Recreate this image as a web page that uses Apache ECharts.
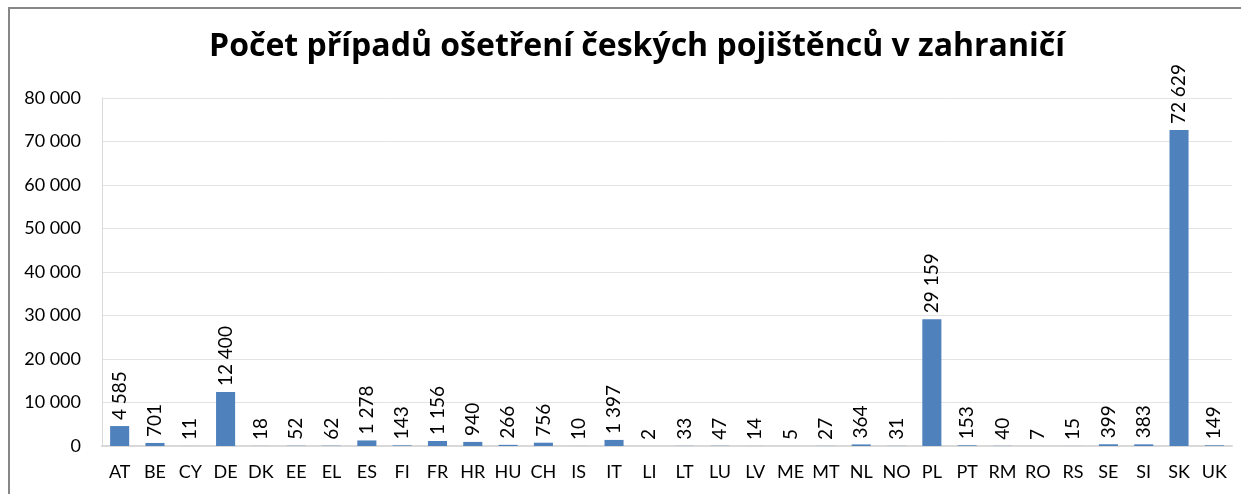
<!DOCTYPE html>
<html>
<head>
<meta charset="utf-8">
<script src="https://cdn.jsdelivr.net/npm/echarts@6/dist/echarts.min.js"></script>
<style>
  html, body { margin: 0; padding: 0; background: #fff; }
  #chart { width: 1241px; height: 494px; }
</style>
</head>
<body>
<div id="chart"></div>
<script>
  // zeme (kody) a pocty pripadu
  var countries = ['AT', 'BE', 'CY', 'DE', 'DK', 'EE', 'EL', 'ES', 'FI', 'FR', 'HR', 'HU', 'CH', 'IS', 'IT', 'LI',
    'LT', 'LU', 'LV', 'ME', 'MT', 'NL', 'NO', 'PL', 'PT', 'RM', 'RO', 'RS', 'SE', 'SI', 'SK', 'UK'];
  var cases = [4585, 701, 11, 12400, 18, 52, 62, 1278, 143, 1156, 940, 266, 756, 10, 1397, 2,
    33, 47, 14, 5, 27, 364, 31, 29159, 153, 40, 7, 15, 399, 383, 72629, 149];
  var yTicks = [0, 10000, 20000, 30000, 40000, 50000, 60000, 70000, 80000];

  var fontName = 'Lato, "Open Sans", sans-serif';

  // cislo s mezerou mezi tisici
  function fmt(v) {
    return String(v).replace(/\B(?=(\d{3})+(?!\d))/g, ' ');
  }

  var myChart = echarts.init(document.getElementById('chart'));
  var option = {
    animation: false,
    backgroundColor: '#fff',
    textStyle: { fontFamily: fontName },
    title: {
      text: 'Počet případů ošetření českých pojištěnců v zahraničí',
      left: 632,
      textAlign: 'center',
      top: 26,
      textStyle: { fontSize: 32, fontWeight: 'bold', color: '#000', fontFamily: '"Open Sans", sans-serif' }
    },
    graphic: [{
      type: 'rect',
      shape: { x: 9, y: 8, width: 1260, height: 520 },
      style: { fill: null, stroke: '#878787', lineWidth: 2 },
      silent: true
    }],
    grid: { left: 102, right: 9, top: 98, bottom: 48, containLabel: false },
    xAxis: {
      type: 'category',
      data: countries,
      axisLine: { lineStyle: { color: '#d9d9d9', width: 2 } },
      axisTick: { show: false },
      axisLabel: { color: '#000', fontSize: 18, margin: 17, interval: 0 }
    },
    yAxis: {
      type: 'value',
      min: yTicks[0],
      max: yTicks[yTicks.length - 1],
      interval: yTicks[1] - yTicks[0],
      axisLine: { show: true, lineStyle: { color: '#d9d9d9', width: 1 } },
      axisTick: { show: false },
      splitLine: { lineStyle: { color: '#e3e3e3', width: 1 } },
      axisLabel: { color: '#000', fontSize: 18, margin: 21, formatter: fmt }
    },
    series: [{
      type: 'bar',
      data: cases,
      barWidth: '54%',
      itemStyle: { color: '#4f81bd' },
      label: {
        show: true,
        position: 'top',
        rotate: 90,
        align: 'left',
        verticalAlign: 'middle',
        distance: 6,
        color: '#000',
        fontSize: 19,
        formatter: function (p) { return fmt(p.value); }
      }
    }]
  };
  myChart.setOption(option);
</script>
</body>
</html>
